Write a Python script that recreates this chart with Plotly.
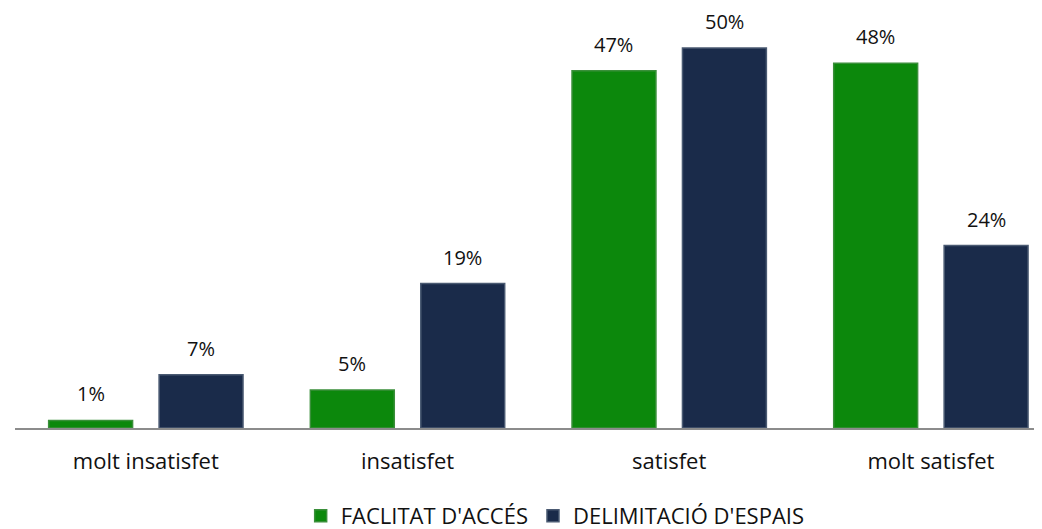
import plotly.graph_objects as go

categories = ["molt insatisfet", "insatisfet", "satisfet", "molt satisfet"]
faclitat = [1, 5, 47, 48]
delimitacio = [7, 19, 50, 24]
series_names = ["FACLITAT D'ACCÉS", "DELIMITACIÓ D'ESPAIS"]

green = "#0c880c"
navy = "#1a2b4a"
font_family = "'Open Sans', Lato, sans-serif"

fig = go.Figure()
fig.add_trace(go.Bar(
    x=categories, y=faclitat, name=series_names[0],
    marker=dict(color=green, line=dict(color="#3a8f3a", width=1.5)),
))
fig.add_trace(go.Bar(
    x=categories, y=delimitacio, name=series_names[1],
    marker=dict(color=navy, line=dict(color="#4a5a72", width=1.5)),
))

# value labels above each bar (positioned via category axis + pixel offset of the bar slot)
slot_px = 55.25
for series, sign in ((faclitat, -1), (delimitacio, 1)):
    for cat, v in zip(categories, series):
        fig.add_annotation(x=cat, y=v, xref="x", yref="y", text=f"{v}%",
                           showarrow=False, xshift=sign * slot_px, yshift=12,
                           borderpad=0, yanchor="bottom",
                           font=dict(size=20, color="#111111"))

fig.update_layout(
    width=1034, height=521,
    margin=dict(l=7, r=2, t=2, b=101, autoexpand=False),
    paper_bgcolor="white", plot_bgcolor="white",
    barmode="group", bargap=0.156, bargroupgap=0.24,
    font=dict(family=font_family, size=20, color="#111111"),
    showlegend=True,
    legend=dict(orientation="h", x=0.527, xanchor="center", y=-0.2105, yanchor="middle",
                font=dict(size=22), itemwidth=30),
)
fig.update_xaxes(showline=True, linecolor="#8c8c8c", linewidth=1.5, ticks="",
                 tickfont=dict(size=22), ticklabelstandoff=13, showgrid=False,
                 automargin=False, range=[-0.5, 3.417])
fig.update_yaxes(range=[0, 55], visible=False, showgrid=False, automargin=False)

fig.write_html("out.html")
